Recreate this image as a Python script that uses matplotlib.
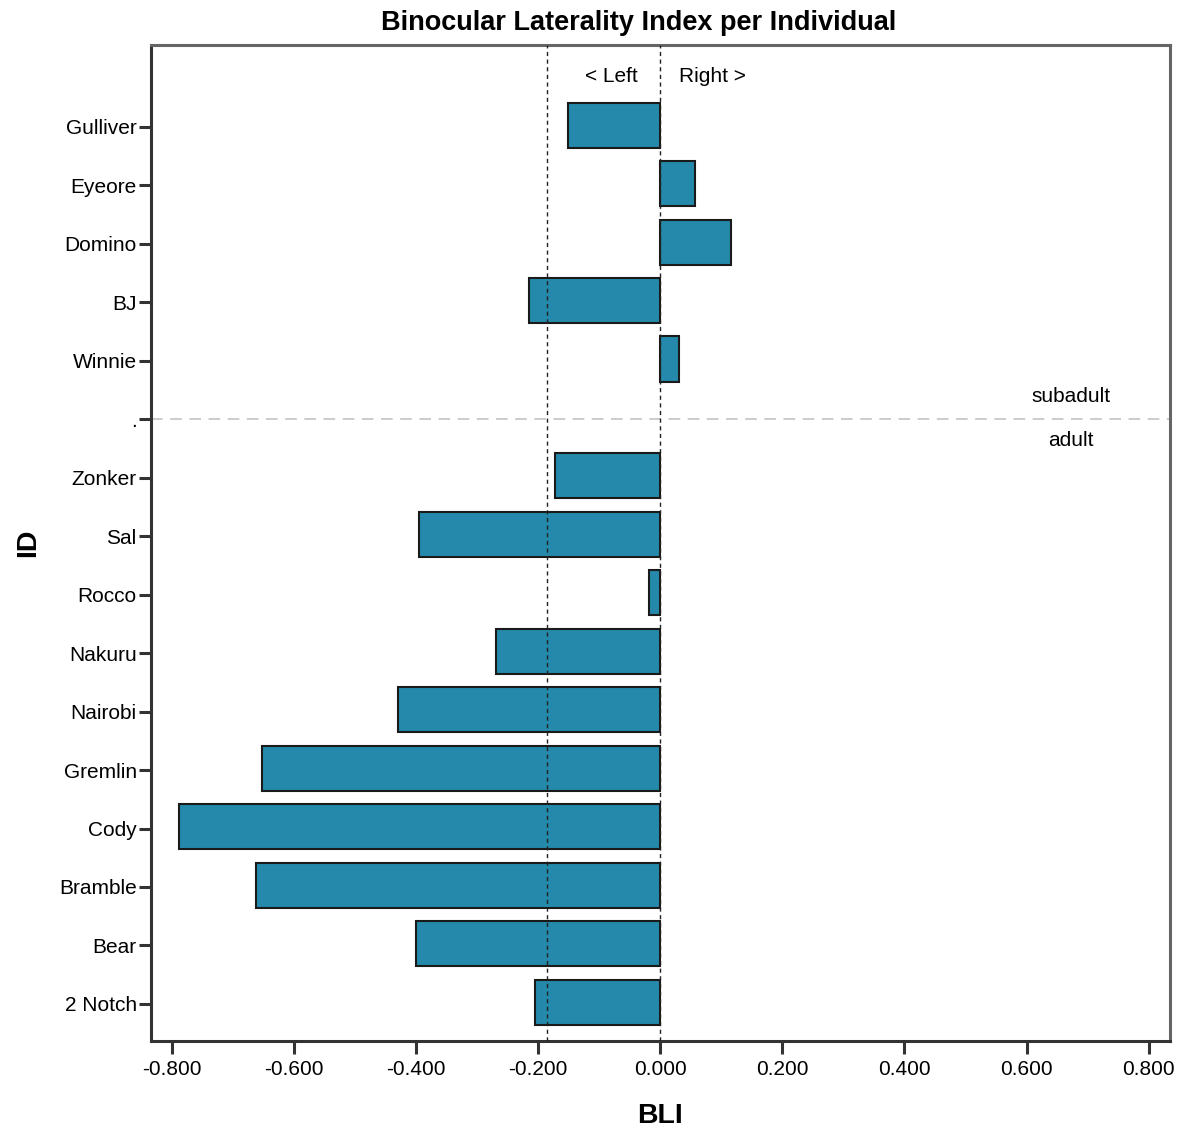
import matplotlib
matplotlib.use("Agg")
import matplotlib.pyplot as plt
import numpy as np

ids = ["Gulliver", "Eyeore", "Domino", "BJ", "Winnie", ".",
       "Zonker", "Sal", "Rocco", "Nakuru", "Nairobi", "Gremlin",
       "Cody", "Bramble", "Bear", "2 Notch"]
bli = [-0.151, 0.056, 0.116, -0.215, 0.031, np.nan,
       -0.172, -0.396, -0.018, -0.269, -0.429, -0.652,
       -0.788, -0.662, -0.401, -0.206]
mean_bli = -0.186
xticks = [-0.8, -0.6, -0.4, -0.2, 0.0, 0.2, 0.4, 0.6, 0.8]
group_labels = ["subadult", "adult"]

plt.rcParams['font.family'] = ['Liberation Sans', 'DejaVu Sans']

fig = plt.figure(figsize=(11.90, 11.31), dpi=100)
ax = fig.add_axes([0.1266, 0.0798, 0.9832 - 0.1266, 0.9602 - 0.0798])

ypos = np.arange(len(ids))
vals = np.array(bli, dtype=float)
mask = ~np.isnan(vals)
ax.barh(ypos[mask] - 0.03, vals[mask], height=0.77, color="#2589ab",
        edgecolor="#1a1a1a", linewidth=1.5, zorder=2)

ax.set_xlim(-0.835, 0.835)
ax.set_ylim(15.63, -1.40)

ax.axvline(0.0, color="#222222", linestyle=(0, (3, 2.5)), linewidth=1.0, zorder=3)
ax.axvline(mean_bli, color="#222222", linestyle=(0, (3, 2.5)), linewidth=1.0, zorder=3)

sep = ids.index(".")
ax.axhline(sep, color="#c4c4c4", linestyle=(0, (7, 4.5)), linewidth=1.2, zorder=1)
ax.text(0.673, sep - 0.38, group_labels[0], ha="center", va="center", fontsize=15)
ax.text(0.673, sep + 0.37, group_labels[1], ha="center", va="center", fontsize=15)

ax.text(-0.037, -0.87, "< Left", ha="right", va="center", fontsize=15)
ax.text(0.031, -0.87, "Right >", ha="left", va="center", fontsize=15)

ax.set_yticks(ypos)
ax.set_yticklabels(ids, fontsize=15)
ax.set_xticks(xticks)
ax.set_xticklabels([f"{t:.3f}" for t in xticks], fontsize=15)

ax.tick_params(axis="y", length=9, width=2.2, color="#333333", pad=1)
ax.tick_params(axis="x", length=9, width=2.2, color="#333333", pad=5)

for s in ["left", "bottom"]:
    ax.spines[s].set_linewidth(2.2)
    ax.spines[s].set_color("#333333")
for s in ["top", "right"]:
    ax.spines[s].set_linewidth(2.2)
    ax.spines[s].set_color("#666666")

ax.set_xlabel("BLI", fontsize=20.5, fontweight="bold", labelpad=17)
ax.set_ylabel("ID", fontsize=20.5, fontweight="bold", labelpad=13)
fig.text(639 / 1190, 1 - 23 / 1131, "Binocular Laterality Index per Individual",
         fontsize=19.5, fontweight="bold", ha="center", va="center")

fig.savefig("out.png", dpi=100)
